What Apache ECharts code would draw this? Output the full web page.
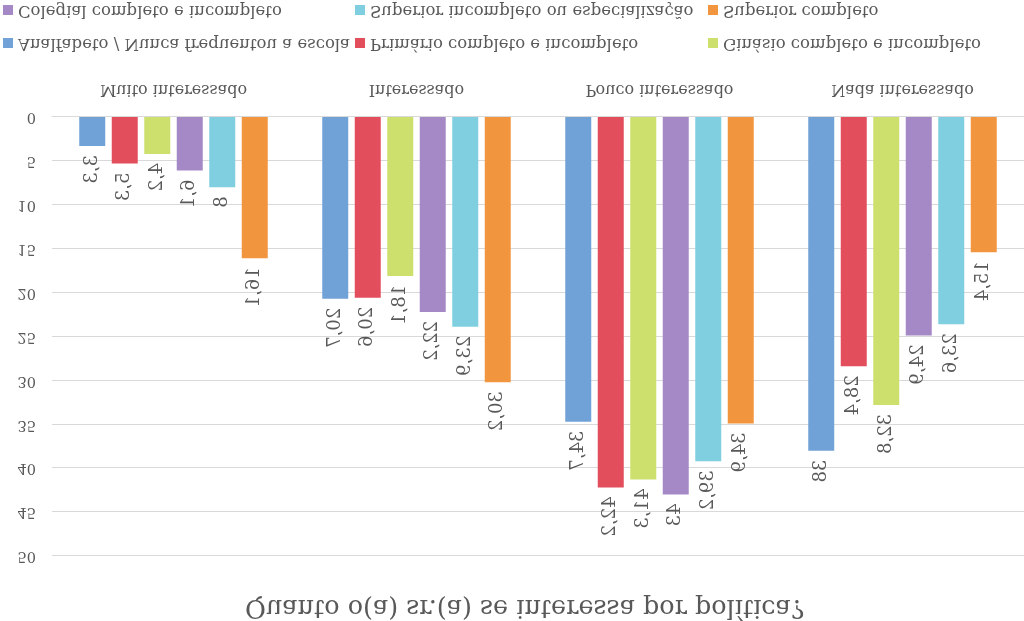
<!DOCTYPE html>
<html>
<head>
<meta charset="utf-8">
<script src="https://cdn.jsdelivr.net/npm/echarts@6/dist/echarts.min.js"></script>
<style>
html,body{margin:0;padding:0;background:#fff;}
#chart{width:1024px;height:621px;transform:scaleY(-1);transform-origin:50% 50%;}
</style>
</head>
<body>
<div id="chart"></div>
<script>
// Data (the reference picture is drawn upside-down, so the whole chart is mirrored vertically with CSS)
const title = 'Quanto o(a) sr.(a) se interessa por política?';
const categories = ['Muito interessado', 'Interessado', 'Pouco interessado', 'Nada interessado'];
const seriesNames = [
  'Analfabeto / Nunca frequentou a escola',
  'Primário completo e incompleto',
  'Ginásio completo e incompleto',
  'Colegial completo e incompleto',
  'Superior incompleto ou especialização',
  'Superior completo'
];
const analfabeto = [3.3, 20.7, 34.7, 38];
const primario   = [5.3, 20.6, 42.2, 28.4];
const ginasio    = [4.2, 18.1, 41.3, 32.8];
const colegial   = [6.1, 22.2, 43, 24.9];
const supIncompl = [8, 23.9, 39.2, 23.6];
const supCompl   = [16.1, 30.2, 34.9, 15.4];
const yTicks = [0, 5, 10, 15, 20, 25, 30, 35, 40, 45, 50];

const values = [analfabeto, primario, ginasio, colegial, supIncompl, supCompl];
const colors = ['#70a2d7', '#e34e5d', '#cde06d', '#a489c6', '#80cfe0', '#f2953f'];
const FONT = 'DejaVu Serif';
const TXT = '#595959';

const chart = echarts.init(document.getElementById('chart'), null, {renderer: 'canvas'});

// legend placement: two rows, three columns
const legendPos = [
  {left: 3, top: 568}, {left: 355, top: 568}, {left: 708, top: 568},
  {left: 3, top: 601}, {left: 355, top: 601}, {left: 708, top: 601}
];
const legends = seriesNames.map((n, i) => ({
  data: [n],
  left: legendPos[i].left,
  top: legendPos[i].top,
  icon: 'rect',
  itemWidth: 10,
  itemHeight: 10,
  itemGap: 0,
  padding: 0,
  textStyle: {fontFamily: FONT, fontSize: 16.5, color: TXT, lineHeight: 20, padding: [0, 0, 0, 0]}
}));

const option = {
  animation: false,
  color: colors,
  title: {
    text: title,
    left: 245,
    top: 1,
    padding: 0,
    textStyle: {fontFamily: FONT, fontSize: 25.5, fontWeight: 'normal', color: TXT}
  },
  legend: legends,
  grid: {left: 52, right: 0, top: 65, bottom: 117, containLabel: false},
  xAxis: {
    type: 'category',
    data: categories,
    axisTick: {show: false},
    axisLine: {lineStyle: {color: '#d9d9d9'}},
    axisLabel: {fontFamily: FONT, fontSize: 16, color: TXT, margin: 20}
  },
  yAxis: {
    type: 'value',
    min: yTicks[0],
    max: yTicks[yTicks.length - 1],
    interval: yTicks[1] - yTicks[0],
    axisLine: {show: false},
    axisTick: {show: false},
    splitLine: {lineStyle: {color: '#d9d9d9', width: 1}},
    axisLabel: {fontFamily: FONT, fontSize: 14.5, color: TXT, margin: 16}
  },
  series: seriesNames.map((n, i) => ({
    name: n,
    type: 'bar',
    data: values[i],
    barWidth: 26,
    barGap: '25%',
    itemStyle: {color: colors[i]},
    label: {
      show: true,
      position: 'top',
      rotate: 90,
      align: 'left',
      verticalAlign: 'middle',
      distance: 9,
      fontFamily: FONT,
      fontSize: 18,
      color: TXT,
      formatter: p => String(p.value).replace('.', ',')
    }
  }))
};
chart.setOption(option);
</script>
</body>
</html>
